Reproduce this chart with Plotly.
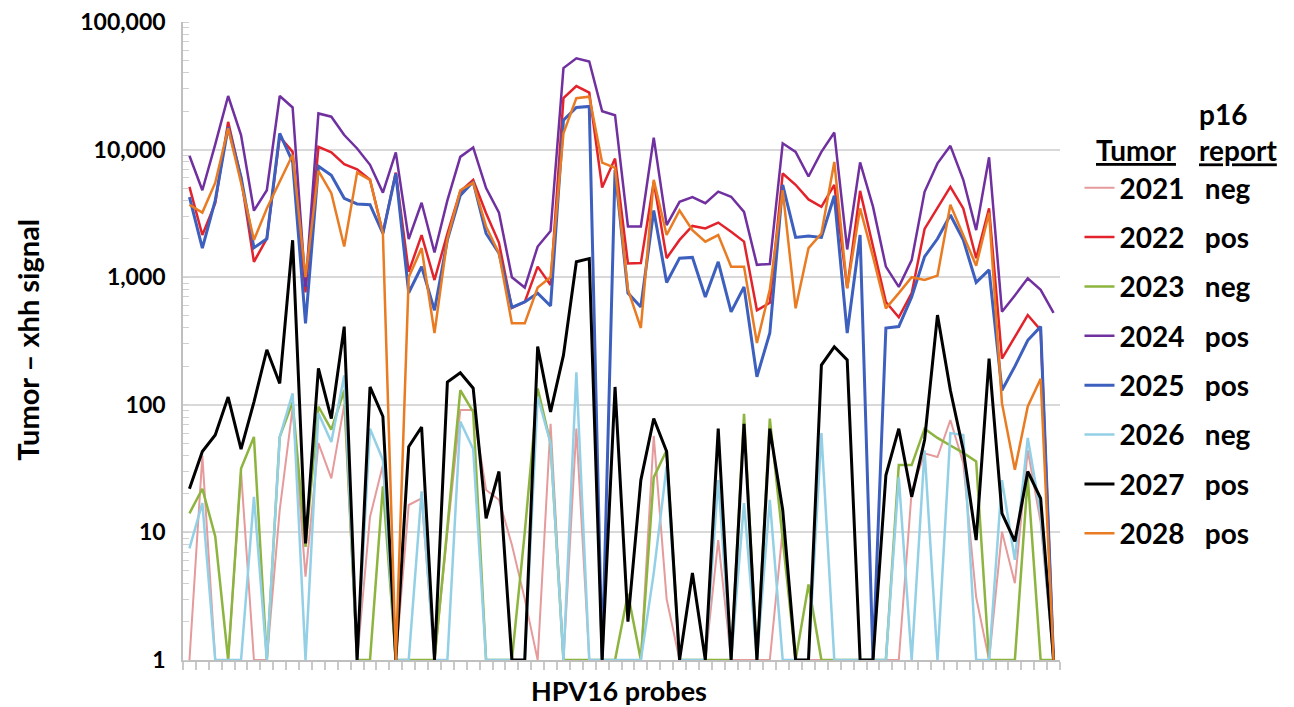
import plotly.graph_objects as go

probes = list(range(1, 69))
tumors = ["2021", "2022", "2023", "2024", "2025", "2026", "2027", "2028"]
p16_report = ["neg", "pos", "neg", "pos", "pos", "neg", "pos", "pos"]
y_tick_vals = [1, 10, 100, 1000, 10000, 100000]
y_tick_text = ["1", "10", "100", "1,000", "10,000", "100,000"]

s2021 = [1, 40, 1, 1, 30, 1, 1, 15, 95, 4.5,
         50, 26.5, 100, 1, 13.2, 33.7, 1, 16.4, 18.5, 1,
         10, 91, 91, 21.5, 18, 8, 3, 1, 71, 1,
         65, 1, 1, 1, 1, 1, 57, 3, 1, 1,
         1, 8.7, 1, 1, 1, 1, 10.5, 1, 1, 1,
         1, 1, 1, 1, 1, 1, 21, 41.6, 39, 76,
         35, 3.1, 1, 10.1, 4, 44, 12, 1]
s2022 = [5100, 2140, 3800, 16500, 6000, 1320, 2010, 12600, 9600, 760,
         10500, 9500, 7700, 7000, 5800, 2220, 6600, 1100, 2140, 950,
         2200, 4700, 5800, 3170, 1860, 575, 640, 1210, 870, 25300,
         31500, 28000, 5050, 8500, 1280, 1290, 5600, 1410, 1960, 2520,
         2410, 2680, 2270, 1900, 550, 630, 6500, 5300, 4070, 3560,
         5300, 820, 4750, 1740, 640, 485, 750, 2390, 3460, 5100,
         3460, 1410, 3460, 230, 340, 505, 385, 1]
s2023 = [14.1, 22, 9.3, 1, 31.6, 56, 1, 56, 105, 7.7,
         97, 64, 130, 1, 1, 23, 1, 1, 1, 1,
         11, 130, 88, 1, 1, 1, 10, 134, 50, 1,
         1, 1, 1, 1, 3.3, 1, 27, 44, 1, 1,
         1, 1, 1, 85, 1, 78, 9, 1, 3.9, 1,
         1, 1, 1, 1, 1, 33.7, 33.7, 65, 55, 48,
         42, 36, 1, 1, 1, 27, 1, 1]
s2024 = [8960, 4800, 11000, 26300, 13000, 3320, 4800, 26300, 21400, 840,
         19200, 18100, 13000, 10200, 7600, 4600, 9500, 1990, 3830, 1560,
         4000, 8770, 10400, 4990, 3200, 1000, 830, 1740, 2300, 43500,
         52000, 49000, 20000, 18600, 2500, 2500, 12400, 2560, 3900, 4240,
         3800, 4680, 4270, 3250, 1250, 1270, 11200, 9600, 6150, 9600,
         13600, 1650, 7950, 3570, 1210, 840, 1360, 4670, 7800, 10700,
         5800, 2340, 8700, 536, 720, 980, 795, 525]
s2025 = [4250, 1690, 4000, 15000, 6100, 1700, 2000, 13400, 8000, 435,
         7400, 6300, 4150, 3750, 3700, 2200, 6500, 755, 1210, 550,
         1960, 4380, 5600, 2200, 1540, 580, 640, 750, 595, 17000,
         21400, 21800, 1, 6900, 750, 585, 3330, 910, 1410, 1430,
         700, 1320, 535, 840, 166, 365, 5300, 2050, 2100, 2050,
         4350, 365, 2140, 1, 400, 410, 700, 1450, 2000, 3070,
         1960, 910, 1140, 130, 200, 320, 410, 1]
s2026 = [7.5, 17, 1, 1, 1, 19, 1, 56, 123, 1,
         86, 51, 170, 1, 65, 37, 1, 1, 21, 1,
         1, 74, 45, 1, 1, 1, 1, 116, 50, 1,
         180, 1, 1, 1, 1, 1, 4.8, 33, 1, 1,
         1, 25.7, 1, 17, 1, 18, 1, 1, 1, 60,
         1, 1, 1, 1, 1, 27, 1, 44, 1, 60,
         58, 1, 1, 25.7, 6.1, 55, 14, 1]
s2027 = [22, 43, 58, 115, 45, 105, 270, 147, 1950, 8.2,
         193, 78, 410, 1, 138, 81, 1, 47, 67, 1,
         151, 178, 135, 12.9, 30, 1, 1, 286, 88, 245,
         1320, 1400, 1, 138, 2, 25.7, 78, 43, 1, 4.8,
         1, 65, 1, 71, 1, 65, 15, 1, 1, 205,
         285, 225, 1, 1, 28, 65, 19, 53, 505, 130,
         44, 8.7, 230, 14.1, 8.5, 30, 18.5, 1]
s2028 = [3700, 3210, 5500, 14700, 5500, 1960, 3460, 5600, 9100, 1000,
         6800, 4550, 1740, 6600, 5800, 2200, 1, 1000, 1690, 365,
         2000, 4800, 5500, 2500, 1540, 435, 435, 830, 1000, 13400,
         25300, 26000, 7900, 7200, 800, 400, 5800, 2140, 3330, 2340,
         1900, 2140, 1210, 1210, 305, 800, 4800, 570, 1690, 2200,
         8000, 820, 3460, 1450, 570, 750, 1000, 950, 1030, 3700,
         2140, 1230, 3200, 103, 31, 97, 160, 1]

series = [s2021, s2022, s2023, s2024, s2025, s2026, s2027, s2028]
colors = ["#E59A9B", "#E3232B", "#8DB43E", "#7030A0", "#3D5FBE", "#93D0E6", "#000000", "#E97B22"]
widths = [2, 2.5, 2.5, 2.5, 3, 2.5, 3, 2.5]

FONT = "Lato"
W, H = 1294, 707
L, R, T, B = 182.5, 233.5, 22, 47
pw, ph = W - L - R, H - T - B


def px(xp):
    return (xp - L) / pw


def py(yp):
    return (H - B - yp) / ph


fig = go.Figure()
legend_centers = [188, 237.3, 286.7, 336, 385.5, 434.8, 484.2, 533.5]
layout_legends = {}
for i, (name, rep, ys) in enumerate(zip(tumors, p16_report, series)):
    lg = "legend" if i == 0 else f"legend{i + 1}"
    fig.add_trace(go.Scatter(
        x=probes, y=ys, mode="lines", name=f"<b>{name}\u00a0\u00a0\u00a0{rep}</b>",
        line=dict(color=colors[i], width=widths[i]), legend=lg, showlegend=True))
    layout_legends[lg] = dict(
        x=px(1080), xanchor="left", y=py(legend_centers[i]), yanchor="middle",
        font=dict(family=FONT, size=28, color="black"), bgcolor="rgba(0,0,0,0)",
        borderwidth=0, itemwidth=30, tracegroupgap=0)

fig.update_layout(
    width=W, height=H, autosize=False,
    margin=dict(l=L, r=R, t=T, b=B, pad=0, autoexpand=False),
    plot_bgcolor="white", paper_bgcolor="white",
    font=dict(family=FONT, color="black"),
    **layout_legends,
)

fig.update_xaxes(
    range=[0.5, 68.5], tickmode="array", automargin=False,
    tickvals=[k + 0.5 for k in range(0, 69)],
    showticklabels=False, ticks="outside", ticklen=8, tickcolor="#c9c9c9", tickwidth=1.5,
    showgrid=False, zeroline=False, showline=True, linecolor="#bfbfbf", linewidth=1.5,
)
fig.update_yaxes(
    type="log", range=[0, 5], tickmode="array", automargin=False,
    tickvals=y_tick_vals, ticktext=y_tick_text,
    tickfont=dict(family=FONT, size=23, color="black", weight="bold"),
    ticks="", ticklabelstandoff=11,
    showgrid=True, gridcolor="#d9d9d9", gridwidth=1.5,
    zeroline=False, showline=True, linecolor="#bfbfbf", linewidth=1.5,
    minor=dict(ticks="inside", ticklen=6, tickcolor="#d0d0d0", showgrid=False, dtick="D1"),
)

ann = [
    dict(text="<b>HPV16 probes</b>", x=px(619), y=py(690), font=dict(size=27)),
    dict(text="<b>Tumor – xhh signal</b>", x=px(26), y=py(340), font=dict(size=29), textangle=-90),
    dict(text="<b><u>Tumor</u></b>", x=px(1137), y=py(150), font=dict(size=28)),
    dict(text="<b>p16</b><br><b><u>report</u></b>", x=px(1239), y=py(132), font=dict(size=28),
         align="left"),
]
for a in ann:
    a.update(xref="paper", yref="paper", showarrow=False, xanchor="center", yanchor="middle")
    a["font"].update(family=FONT, color="black")
    fig.add_annotation(**a)

fig.write_html(
    "out.html",
    config={"displayModeBar": False},
    post_script="document.body.style.margin='0px';document.body.style.overflow='hidden';",
)
